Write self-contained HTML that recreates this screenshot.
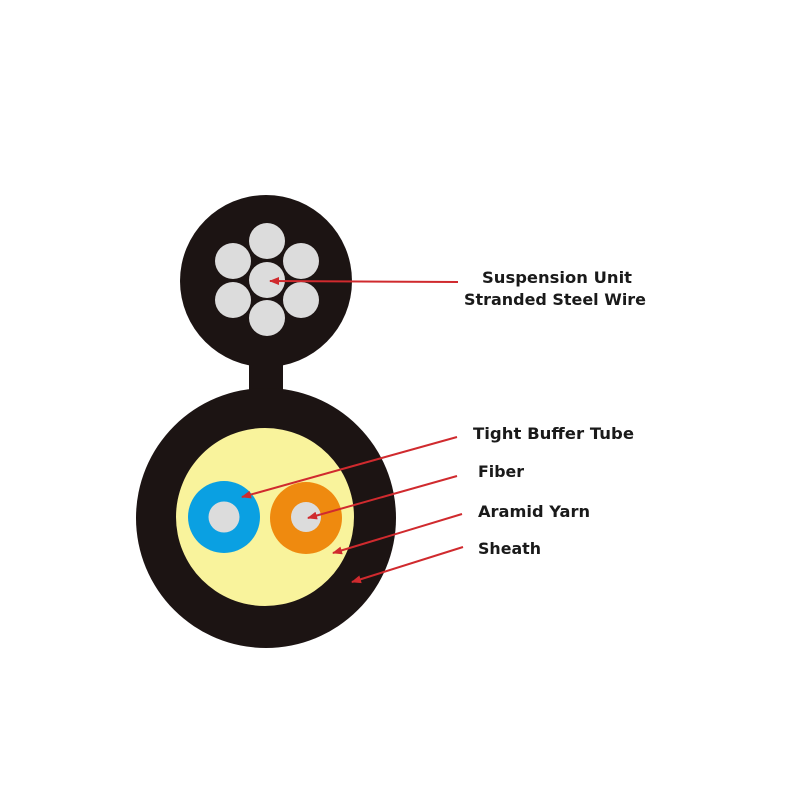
<!DOCTYPE html>
<html><head><meta charset="utf-8"><style>
html,body{margin:0;padding:0;background:#fff;width:800px;height:800px;overflow:hidden}
text{font-family:"DejaVu Sans","Liberation Sans",sans-serif;font-weight:bold;font-size:16px;fill:#1a1a1a}
</style></head><body>
<svg width="800" height="800" viewBox="0 0 800 800" xmlns="http://www.w3.org/2000/svg">
<defs><marker id="a" markerWidth="10" markerHeight="8" refX="9" refY="4" orient="auto" markerUnits="userSpaceOnUse"><path d="M0,0 L10,4 L0,8 Z" fill="#d02a2e"/></marker></defs>
<circle cx="266" cy="281" r="86" fill="#1c1413"/>
<rect x="249" y="355" width="34" height="50" fill="#1c1413"/>
<circle cx="266" cy="518" r="130" fill="#1c1413"/>
<g fill="#dcdcdc">
<circle cx="267" cy="280" r="18"/>
<circle cx="267" cy="241" r="18"/>
<circle cx="301" cy="261" r="18"/>
<circle cx="301" cy="300" r="18"/>
<circle cx="267" cy="318" r="18"/>
<circle cx="233" cy="300" r="18"/>
<circle cx="233" cy="261" r="18"/>
</g>
<circle cx="265" cy="517" r="89" fill="#f9f39c"/>
<circle cx="224" cy="517" r="36" fill="#0aa0e2"/>
<circle cx="224" cy="517" r="15.5" fill="#dcdcdc"/>
<circle cx="306" cy="518" r="36" fill="#ef8a0f"/>
<circle cx="306" cy="517" r="15" fill="#dcdcdc"/>
<g stroke="#d02a2e" stroke-width="2" marker-end="url(#a)">
<line x1="458" y1="282" x2="270" y2="281"/>
<line x1="457" y1="437" x2="242" y2="497"/>
<line x1="457" y1="476" x2="308" y2="518"/>
<line x1="462" y1="514" x2="333" y2="553"/>
<line x1="463" y1="547" x2="352" y2="582"/>
</g>
<text x="482" y="283" textLength="150" lengthAdjust="spacingAndGlyphs">Suspension Unit</text>
<text x="464" y="305" textLength="182" lengthAdjust="spacingAndGlyphs">Stranded Steel Wire</text>
<text x="473" y="439" textLength="161" lengthAdjust="spacingAndGlyphs">Tight Buffer Tube</text>
<text x="478" y="477" textLength="46" lengthAdjust="spacingAndGlyphs">Fiber</text>
<text x="478" y="517" textLength="112" lengthAdjust="spacingAndGlyphs">Aramid Yarn</text>
<text x="478" y="554" textLength="63" lengthAdjust="spacingAndGlyphs">Sheath</text>
</svg>
</body></html>
